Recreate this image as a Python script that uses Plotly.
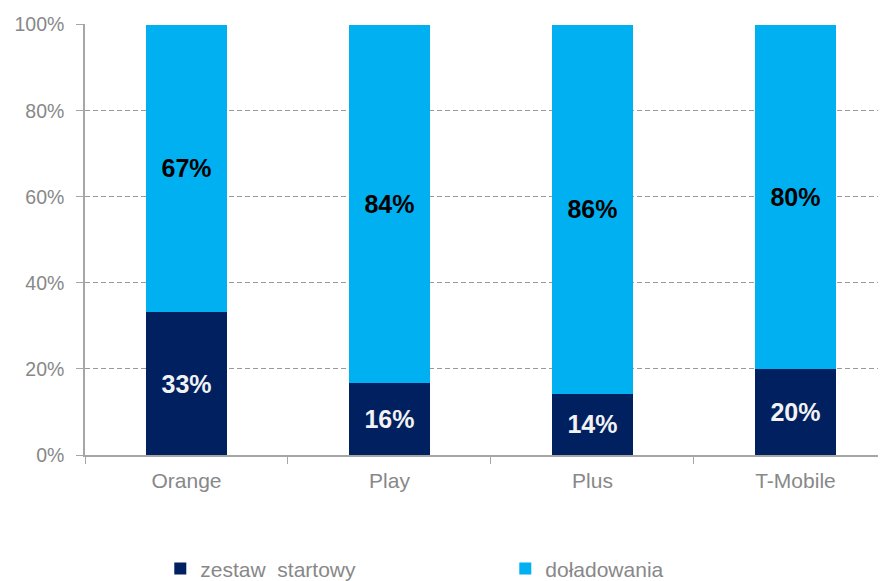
import plotly.graph_objects as go

categories = ["Orange", "Play", "Plus", "T-Mobile"]
zestaw = [33.2, 16.7, 14.2, 20.0]
doladowania = [66.8, 83.3, 85.8, 80.0]
zestaw_labels = ["33%", "16%", "14%", "20%"]
doladowania_labels = ["67%", "84%", "86%", "80%"]
y_ticks = [0, 20, 40, 60, 80, 100]
y_tick_labels = ["0%", "20%", "40%", "60%", "80%", "100%"]

FONT = "Liberation Sans, Arial"

fig = go.Figure()
fig.add_trace(go.Bar(
    x=categories, y=zestaw, name="zestaw\u00a0 startowy",
    marker=dict(color="#002060", line=dict(width=0)),
    text=zestaw_labels, textposition="inside", insidetextanchor="middle",
    textfont=dict(family=FONT, size=25, color="#F2F2F2", weight="bold"),
    width=0.4,
))
fig.add_trace(go.Bar(
    x=categories, y=doladowania, name="doładowania",
    marker=dict(color="#00B0F0", line=dict(width=0)),
    text=doladowania_labels, textposition="inside", insidetextanchor="middle",
    textfont=dict(family=FONT, size=25, color="#000000", weight="bold"),
    width=0.4,
))

fig.update_layout(
    barmode="stack",
    width=886, height=581,
    margin=dict(l=77, r=8, t=16, b=134, autoexpand=False),
    plot_bgcolor="white", paper_bgcolor="white",
    font=dict(family=FONT, size=19, color="#888888"),
    uniformtext=dict(minsize=25, mode="show"),
    legend=dict(
        orientation="h", x=0.094, xanchor="left", y=-0.264, yanchor="middle",
        entrywidth=300, entrywidthmode="pixels", itemwidth=30,
        font=dict(family=FONT, size=21, color="#888888"), traceorder="normal",
    ),
    xaxis=dict(
        range=[-0.5, 3.446], showline=True, linecolor="#A6A6A6", linewidth=1.5,
        ticks="outside", tickson="boundaries", ticklen=7, tickcolor="#A6A6A6",
        showgrid=False, tickfont=dict(family=FONT, size=21, color="#888888"),
        automargin=False, ticklabelstandoff=6,
    ),
    yaxis=dict(
        range=[0, 100.15], tickvals=y_ticks, ticktext=y_tick_labels,
        showline=True, linecolor="#A6A6A6", linewidth=1.5,
        ticks="outside", ticklen=7, tickcolor="#A6A6A6",
        showgrid=True, gridcolor="#9A9A9A", griddash="5px,3px", gridwidth=1,
        zeroline=False, ticklabelstandoff=8, automargin=False,
        tickfont=dict(family=FONT, size=19.5, color="#888888"),
    ),
)

fig.write_html("out.html")
